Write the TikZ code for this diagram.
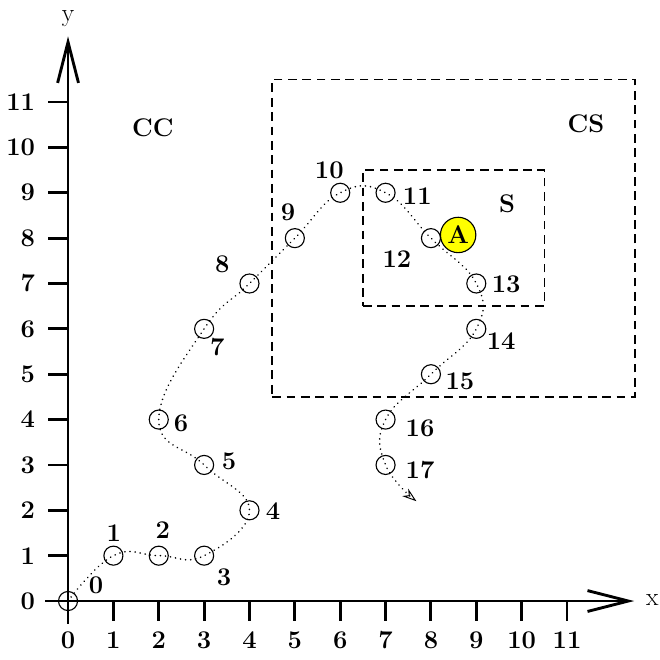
\documentclass[tikz,border=0pt]{standalone}
\usepackage{xcolor}
\usetikzlibrary{arrows.meta}
\definecolor{anchorYellow}{RGB}{255,255,0}

\begin{document}
\begin{tikzpicture}[line width=1.8pt,
  num/.style={font=\fontsize{16}{19}\selectfont\bfseries},
  pt/.style={draw,circle,line width=0.7pt,inner sep=0pt,minimum size=0.42cm},
  zone/.style={draw,line width=0.9pt,dash pattern=on 5.5pt off 3.5pt,inner sep=0pt,outer sep=0pt},
  trail/.style={line width=1.1pt,line cap=round,dash pattern=on 0.01pt off 3.2pt}]
\useasboundingbox (-1.5,-1.3) rectangle (13.03,13.25);
\coordinate (xstart) at (-0.5,0);
\coordinate (xend) at (12.48,0);
\coordinate (ystart) at (0,-0.5);
\coordinate (yend) at (0,12.45);
\draw[-{Straight Barb[length=9mm,width=4.6mm]}] (xstart) -- (xend);
\draw[-{Straight Barb[length=9mm,width=4.6mm]}] (ystart) -- (yend);
\node[font=\fontsize{16}{19}\selectfont,anchor=base,inner sep=1pt] (xlab) at (12.88,-0.1) {x};
\node[font=\fontsize{16}{19}\selectfont,anchor=base,inner sep=1pt] (ylab) at (0,12.78) {y};
% ticks
\foreach \i in {1,...,11} {
  \draw (\i,0) -- (\i,-0.45);
  \draw (0,\i) -- (-0.45,\i);
  \node[num] (xt\i) at (\i,-0.86) {\i};
  \node[num,anchor=east] (yt\i) at (-0.58,\i) {\i};
}
\node[num] (xt0) at (0,-0.86) {0};
\node[num,anchor=east] (yt0) at (-0.58,0) {0};
% zones
\node[zone,minimum width=8cm,minimum height=7cm] (CSbox) at (8.5,8) {};
\node[zone,minimum width=4cm,minimum height=3cm] (Sbox) at (8.5,8) {};
\node[num] (CC) at (1.87,10.43) {CC};
\node[num] (CS) at (11.42,10.52) {CS};
\node[num] (S) at (9.68,8.75) {S};
% visited points
\foreach \i/\x/\y/\lx/\ly in {0/0/0/0.62/0.35, 1/1/1/1.01/1.5, 2/2/1/2.09/1.57,
  3/3/1/3.44/0.53, 4/4/2/4.52/1.98, 5/3/3/3.55/3.07, 6/2/4/2.49/3.92,
  7/3/6/3.29/5.6, 8/4/7/3.4/7.43, 9/5/8/4.85/8.56, 10/6/9/5.76/9.5,
  11/7/9/7.7/8.93, 12/8/8/7.25/7.54, 13/9/7/9.66/6.99, 14/9/6/9.55/5.73,
  15/8/5/8.64/4.85, 16/7/4/7.76/3.81, 17/7/3/7.76/2.89} {
  \node[pt] (p\i) at (\x,\y) {};
  \node[num] (l\i) at (\lx,\ly) {\i};
}
\node[draw,circle,line width=0.7pt,fill=anchorYellow,num,inner sep=0pt,minimum size=0.78cm] (A) at (8.6,8.07) {A};
\coordinate (tail) at (7.68,2.2);
\draw[trail,-{Stealth[open,length=9pt,width=6pt,line width=0.6pt]}] plot[smooth,tension=0.75] coordinates {(p0.center) (p1.center) (p2.center) (p3.center) (p4.center) (p5.center) (p6.center) (p7.center) (p8.center) (p9.center) (p10.center) (p11.center) (p12.center) (p13.center) (p14.center) (p15.center) (p16.center) (p17.center) (tail)};
\end{tikzpicture}
\end{document}
